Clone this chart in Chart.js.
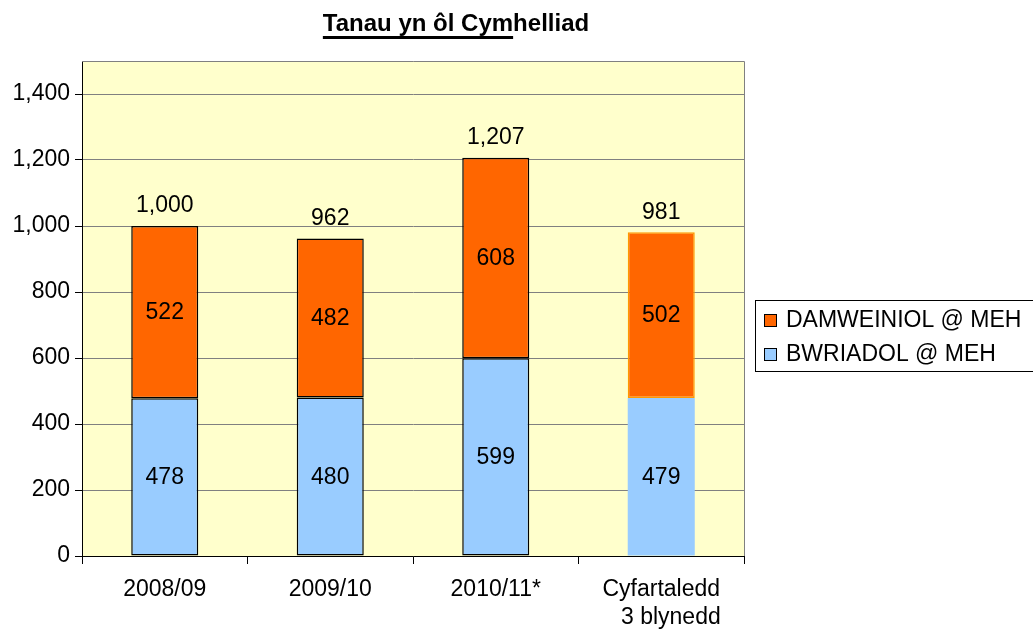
<!DOCTYPE html>
<html><head><meta charset="utf-8">
<script src="https://cdn.jsdelivr.net/npm/chart.js@4.4.0/dist/chart.umd.min.js"></script>
<style>html,body{margin:0;padding:0;background:#fff;}#wrap{width:1033px;height:633px;}</style>
</head><body><div id="wrap"><canvas id="c" width="1033" height="633"></canvas></div>
<script>
const categories = [["2008/09"], ["2009/10"], ["2010/11*"], ["Cyfartaledd", "   3 blynedd"]];
const bwriadol = [478, 480, 599, 479];
const damweiniol = [522, 482, 608, 502];
const totals = [1000, 962, 1207, 981];
const seriesNames = ["BWRIADOL @ MEH", "DAMWEINIOL @ MEH"];
const yTicks = [0, 200, 400, 600, 800, 1000, 1200, 1400];
const title = "Tanau yn ôl Cymhelliad";

const FONT = "'Liberation Sans', Arial, sans-serif";
const FS = 23;
const fmt = v => v.toLocaleString('en-US');

const plugin = {
  id: 'custom',
  beforeDraw(chart) {
    const {ctx, chartArea: a} = chart;
    ctx.save();
    ctx.fillStyle = '#FFFFCC';
    ctx.fillRect(a.left, a.top, a.right - a.left, a.bottom - a.top);
    ctx.restore();
  },
  afterDatasetsDraw(chart) {
    const {ctx, chartArea: a} = chart;
    ctx.save();
    ctx.strokeStyle = '#808080';
    ctx.lineWidth = 1;
    ctx.beginPath();
    ctx.moveTo(a.left, a.top + 0.5); ctx.lineTo(a.right + 0.5, a.top + 0.5); ctx.lineTo(a.right + 0.5, a.bottom);
    ctx.stroke();
    ctx.fillStyle = '#000';
    ctx.font = FS + 'px ' + FONT;
    ctx.textAlign = 'center';
    ctx.textBaseline = 'middle';
    chart.data.datasets.forEach((ds, di) => {
      const meta = chart.getDatasetMeta(di);
      meta.data.forEach((bar, i) => {
        ctx.fillText(fmt(ds.data[i]), bar.x, (bar.y + bar.base) / 2 + 1);
      });
    });
    chart.getDatasetMeta(1).data.forEach((bar, i) => {
      ctx.fillText(fmt(totals[i]), bar.x, bar.y - 20);
    });
    // title
    ctx.font = 'bold 24px ' + FONT;
    ctx.textAlign = 'center';
    ctx.textBaseline = 'alphabetic';
    const tx = 456, ty = 31;
    ctx.fillText(title, tx, ty);
    const w = ctx.measureText(title).width;
    const partW = ctx.measureText("Tanau yn ôl Cym").width;
    ctx.fillRect(tx - w / 2, ty + 5, partW, 3);
    // legend
    ctx.strokeStyle = '#000';
    ctx.lineWidth = 1;
    ctx.strokeRect(755.5, 300.5, 290, 71);
    ctx.font = FS + 'px ' + FONT;
    ctx.textAlign = 'left';
    ctx.textBaseline = 'middle';
    const items = [[seriesNames[1], '#FF6600', 320], [seriesNames[0], '#99CCFF', 354]];
    items.forEach(([t, c, y]) => {
      ctx.fillStyle = c;
      ctx.fillRect(764, y - 6, 13, 13);
      ctx.strokeRect(764.5, y - 5.5, 12, 12);
      ctx.fillStyle = '#000';
      ctx.fillText(t, 786, y + 1);
    });
    ctx.restore();
  }
};

new Chart(document.getElementById('c'), {
  type: 'bar',
  data: {
    labels: categories,
    datasets: [
      { label: seriesNames[0], data: bwriadol, backgroundColor: '#99CCFF',
        categoryPercentage: 1, barPercentage: 0.405,
        borderColor: ['#000', '#000', '#000', '#99CCFF'], borderWidth: [1.5, 1.5, 1.5, 0], borderSkipped: false },
      { label: seriesNames[1], data: damweiniol, backgroundColor: '#FF6600',
        categoryPercentage: 1, barPercentage: 0.405,
        borderColor: ['#000', '#000', '#000', '#FF9900'], borderWidth: 1.5, borderSkipped: false }
    ]
  },
  options: {
    responsive: false,
    animation: false,
    layout: { padding: { top: 61, right: 289, left: 0, bottom: 0 } },
    plugins: { legend: { display: false }, title: { display: false }, tooltip: { enabled: false } },
    scales: {
      x: {
        stacked: true,
        grid: { offset: true, drawOnChartArea: false, drawTicks: true, tickLength: 8, color: '#000' },
        border: { color: '#000', width: 1 },
        ticks: { color: '#000', font: { family: FONT, size: FS, lineHeight: 1.25 }, padding: 11 },
        afterFit(s) { s.height = 77; }
      },
      y: {
        stacked: true,
        min: 0, max: 1500,
        afterBuildTicks(s) { s.ticks = yTicks.map(v => ({ value: v })); },
        grid: { color: '#808080', tickLength: 7, tickColor: '#000', drawTicks: true },
        border: { color: '#000', width: 1 },
        ticks: { color: '#000', font: { family: FONT, size: FS }, padding: 5, callback: v => fmt(v) },
        afterFit(s) { s.width = 82; }
      }
    }
  },
  plugins: [plugin]
});
</script></body></html>
